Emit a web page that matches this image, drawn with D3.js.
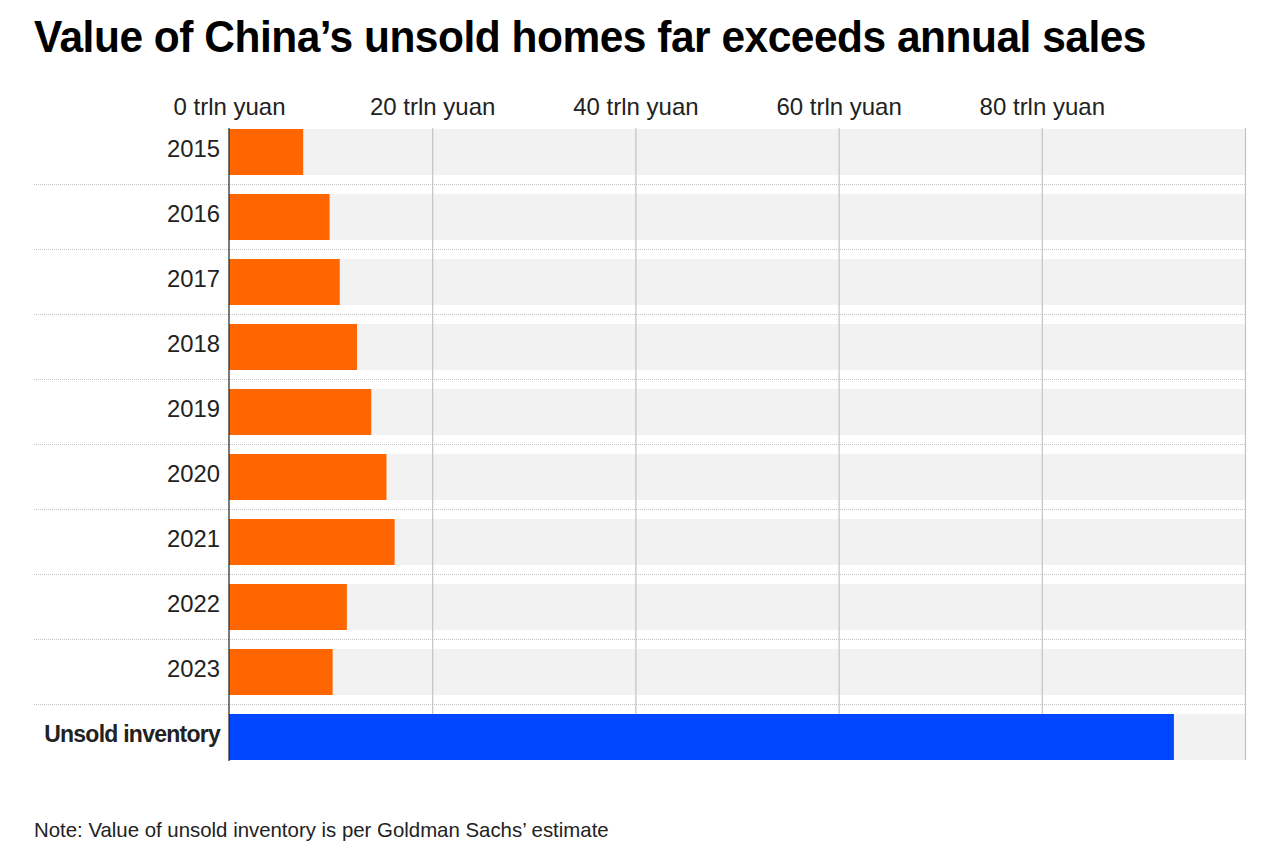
<!DOCTYPE html>
<html><head><meta charset="utf-8">
<script src="https://cdn.jsdelivr.net/npm/d3@7"></script>
<style>
html,body{margin:0;padding:0;background:#fff;}
svg{display:block;font-family:"Liberation Sans",Arial,Helvetica,sans-serif;}
</style></head>
<body><svg id="chart" width="1280" height="848"></svg>
<script>
const categories = ["2015","2016","2017","2018","2019","2020","2021","2022","2023","Unsold inventory"];
const values = [7.3, 9.9, 10.9, 12.6, 14.0, 15.5, 16.3, 11.6, 10.2, 93.0];
const tickValues = [0, 20, 40, 60, 80];
const tickLabels = ["0 trln yuan","20 trln yuan","40 trln yuan","60 trln yuan","80 trln yuan"];
const gridValues = [20, 40, 60, 80, 100];
const title = "Value of China\u2019s unsold homes far exceeds annual sales";
const note = "Note: Value of unsold inventory is per Goldman Sachs\u2019 estimate";

const svg = d3.select("#chart");
const x = d3.scaleLinear().domain([0, 100]).range([229, 1245]);
const y = d3.scaleBand().domain(categories).range([129, 760]).paddingInner(0.2923).paddingOuter(0);

// title
const t = svg.append("text").attr("x", 34).attr("y", 52)
  .attr("font-size", 44).attr("font-weight", "bold").attr("fill", "#000")
  .attr("letter-spacing", "-0.5").text(title);
t.attr("textLength", 1112).attr("lengthAdjust", "spacingAndGlyphs");

// grey bands
svg.append("g").selectAll("rect").data(categories).join("rect")
  .attr("x", x(0)).attr("width", x(100) - x(0))
  .attr("y", d => y(d)).attr("height", y.bandwidth())
  .attr("fill", "#f2f2f2");

// dotted separators
const gap = y.step() - y.bandwidth();
svg.append("g").selectAll("line").data(categories.slice(1)).join("line")
  .attr("x1", 34).attr("x2", x(100))
  .attr("y1", d => y(d) - gap / 2).attr("y2", d => y(d) - gap / 2)
  .attr("stroke", "#c4c4c4").attr("stroke-width", 1).attr("stroke-dasharray", "1,1");

// gridlines
svg.append("g").selectAll("line").data(gridValues).join("line")
  .attr("x1", d => x(d) + 0.5).attr("x2", d => x(d) + 0.5)
  .attr("y1", 128).attr("y2", 760)
  .attr("stroke", "#c2c2c2").attr("stroke-width", 1.2);

// bars
svg.append("g").selectAll("rect").data(categories).join("rect")
  .attr("x", x(0)).attr("y", d => y(d)).attr("height", y.bandwidth())
  .attr("width", (d, i) => x(values[i]) - x(0))
  .attr("fill", (d, i) => i === categories.length - 1 ? "#0047ff" : "#ff6600");

// zero axis line
svg.append("line").attr("x1", x(0)).attr("x2", x(0)).attr("y1", 128).attr("y2", 761)
  .attr("stroke", "#222").attr("stroke-width", 1.2);

// top axis labels
const axis = d3.axisTop(x).tickValues(tickValues).tickSize(0).tickPadding(0)
  .tickFormat((d, i) => tickLabels[i]);
const ag = svg.append("g").attr("transform", "translate(0,115)").call(axis);
ag.select(".domain").remove();
ag.selectAll("text").attr("font-size", 24).attr("fill", "#222")
  .attr("font-family", "Liberation Sans, Arial, sans-serif");

// category labels
svg.append("g").selectAll("text").data(categories).join("text")
  .attr("x", 220).attr("y", d => y(d) + y.bandwidth() / 2 + 5)
  .attr("text-anchor", "end")
  .attr("font-size", (d, i) => i === categories.length - 1 ? 23 : 23.8)
  .attr("font-weight", (d, i) => i === categories.length - 1 ? "bold" : "normal")
  .attr("letter-spacing", (d, i) => i === categories.length - 1 ? "-0.75" : "0")
  .attr("fill", "#222").text(d => d);

// note
svg.append("text").attr("x", 34).attr("y", 837).attr("font-size", 20.4)
  .attr("fill", "#222").text(note);
</script></body></html>
